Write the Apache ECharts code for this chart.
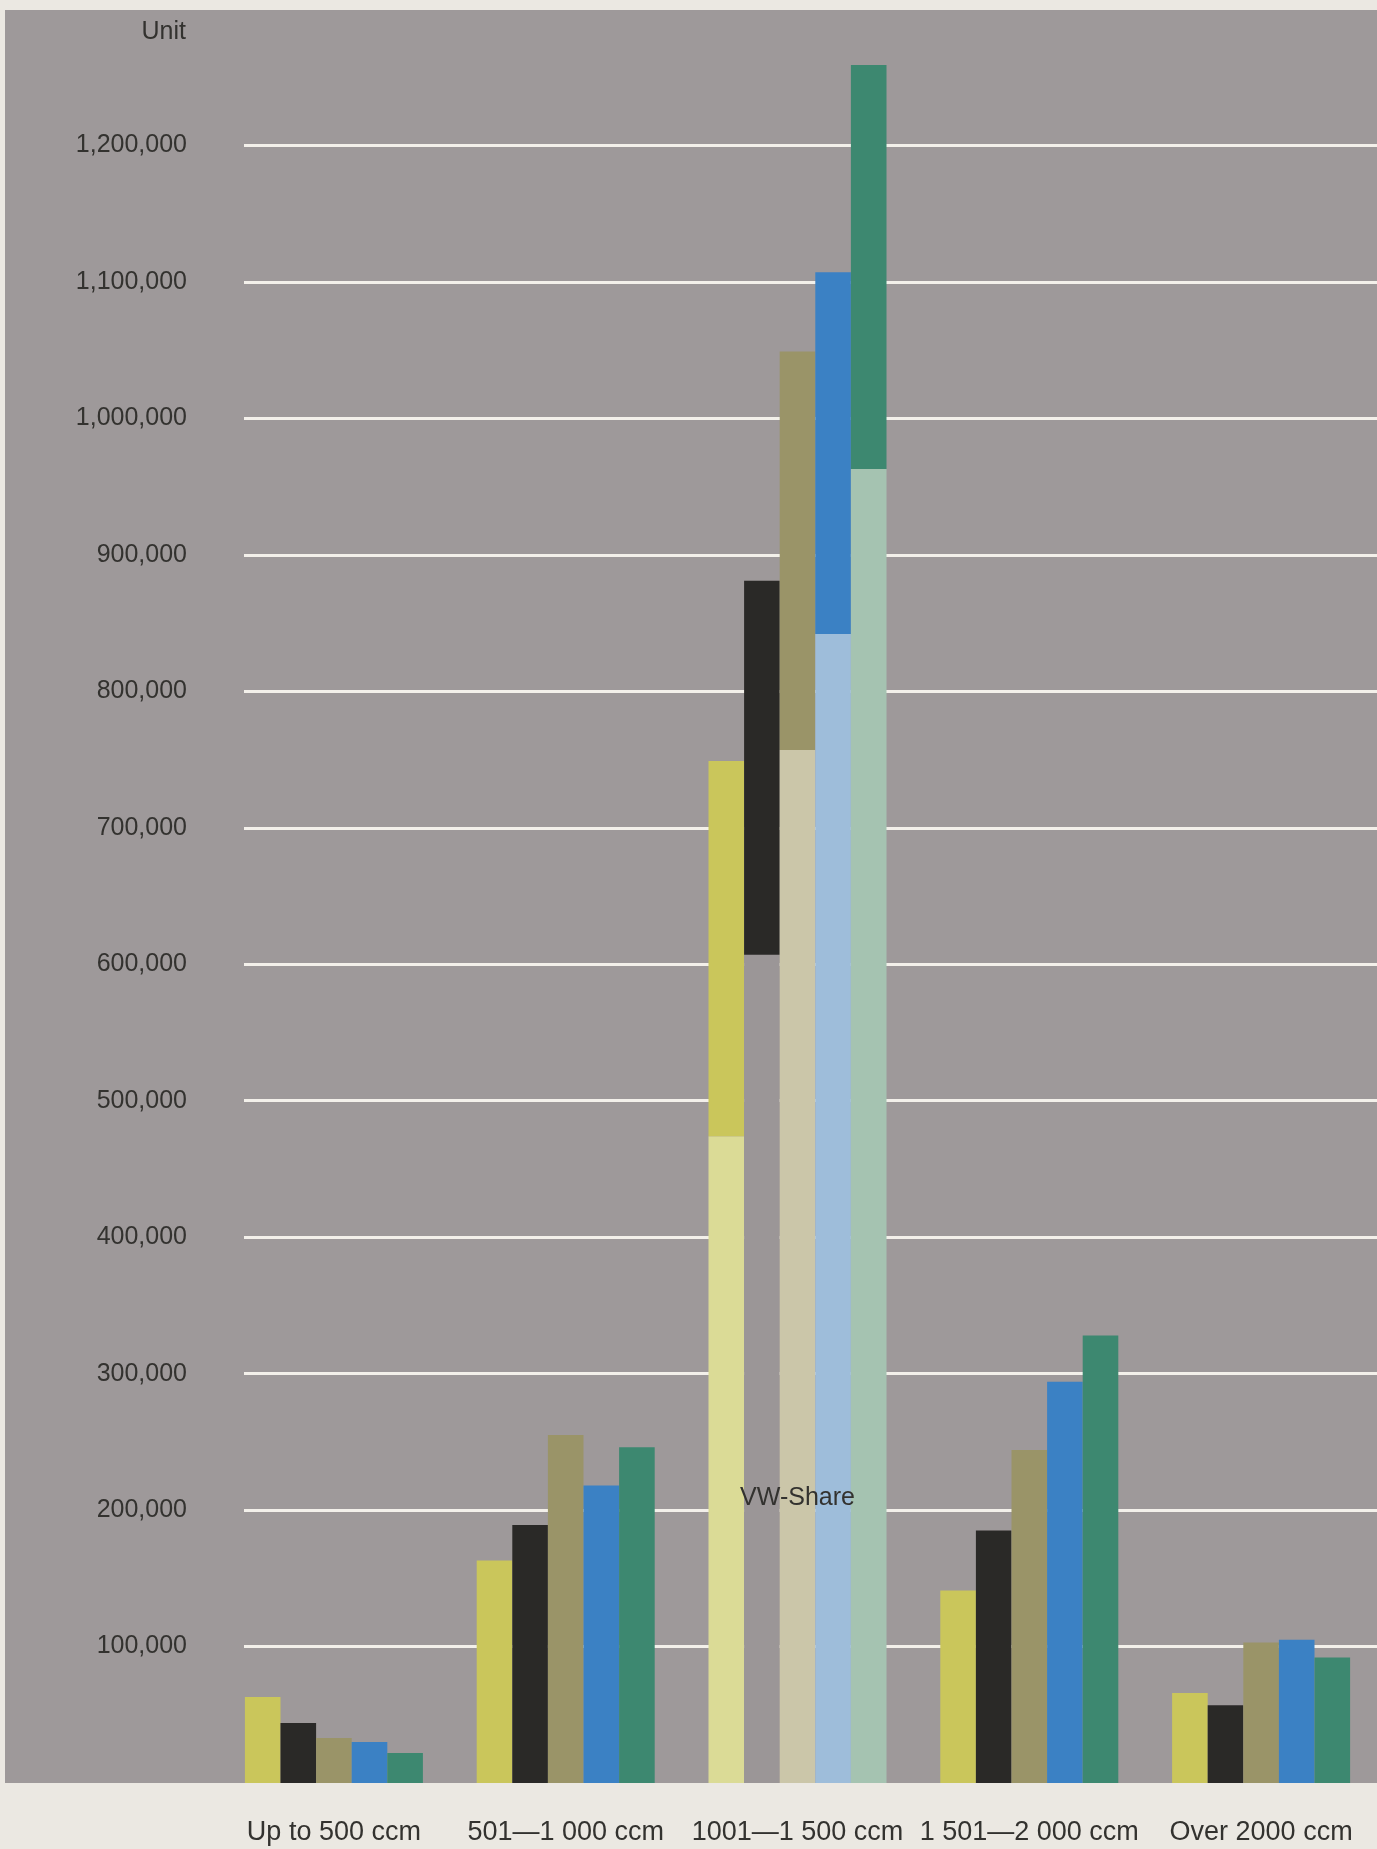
<!DOCTYPE html>
<html>
<head>
<meta charset="utf-8">
<script src="https://cdn.jsdelivr.net/npm/echarts@6/dist/echarts.min.js"></script>
<style>
  html, body { margin: 0; padding: 0; background: #ebe8e2; }
  #chart { width: 1377px; height: 1849px; }
</style>
</head>
<body>
<div id="chart"></div>
<script>
// Engine size classes
const categories = ['Up to 500 ccm', '501—1 000 ccm', '1001—1 500 ccm', '1 501—2 000 ccm', 'Over 2000 ccm'];

// Units per size class, one list per period (left to right within each class)
const unitsPeriod1 = [63000, 163000, 749000, 141000, 66000];
const unitsPeriod2 = [44000, 189000, 881000, 185000, 57000];
const unitsPeriod3 = [33000, 255000, 1049000, 244000, 103000];
const unitsPeriod4 = [30000, 218000, 1107000, 294000, 105000];
const unitsPeriod5 = [22000, 246000, 1259000, 328000, 92000];

// VW share inside the 1001—1 500 ccm class, per period
const vwShareCategory = '1001—1 500 ccm';
const vwShare = [474000, 607000, 757000, 842000, 963000];

// Labelled ticks on the unit axis
const tickValues = [100000, 200000, 300000, 400000, 500000, 600000,
                    700000, 800000, 900000, 1000000, 1100000, 1200000];

const periods = ['Period 1', 'Period 2', 'Period 3', 'Period 4', 'Period 5'];
const unitsByPeriod = [unitsPeriod1, unitsPeriod2, unitsPeriod3, unitsPeriod4, unitsPeriod5];

const darkColors  = ['#cac65b', '#2a2927', '#9a9468', '#3b81c4', '#3d8870'];
const lightColors = ['#dbdb96', '#9b9697', '#cbc6a9', '#9ebdda', '#a5c3b1'];

const FONT = '"Liberation Sans", Arial, Helvetica, sans-serif';
const TEXT = '#33322f';

const vwIdx = categories.indexOf(vwShareCategory);
const series = [];
unitsByPeriod.forEach((units, k) => {
  // lower segment: VW share (only in its size class)
  series.push({
    name: periods[k] + ' VW',
    type: 'bar',
    xAxisIndex: 0, yAxisIndex: 0,
    stack: 'p' + k,
    barWidth: 35.6,
    barGap: '0%',
    itemStyle: { color: lightColors[k] },
    data: categories.map((c, i) => (i === vwIdx ? vwShare[k] : 0)),
    markPoint: k === 2 ? {
      symbol: 'circle',
      symbolSize: 1,
      itemStyle: { color: 'rgba(0,0,0,0)' },
      label: {
        show: true, position: 'inside', formatter: 'VW-Share',
        color: TEXT, fontSize: 25, fontFamily: FONT
      },
      data: [{ coord: [vwShareCategory, 209000] }]
    } : undefined
  });
  // upper segment / full bar
  series.push({
    name: periods[k],
    type: 'bar',
    xAxisIndex: 0, yAxisIndex: 0,
    stack: 'p' + k,
    barWidth: 35.6,
    barGap: '0%',
    itemStyle: { color: darkColors[k] },
    data: units.map((v, i) => (i === vwIdx ? v - vwShare[k] : v))
  });
});

const chart = echarts.init(document.getElementById('chart'), null, { renderer: 'canvas' });
chart.setOption({
  animation: false,
  backgroundColor: '#ebe8e2',
  graphic: {
    elements: [{
      type: 'rect', z: -10, silent: true,
      shape: { x: 5, y: 10, width: 1372, height: 1773 },
      style: { fill: '#9e999a' }
    }, {
      type: 'text', z: 10, silent: true,
      x: 186, y: 32,
      style: { text: 'Unit', fill: TEXT, font: '25px ' + FONT, textAlign: 'right', textVerticalAlign: 'middle' }
    }]
  },
  grid: [
    { left: 218, right: 0, top: 9, bottom: 66 },
    { left: 244, right: 0, top: 9, bottom: 66 }
  ],
  xAxis: [
    {
      type: 'category', gridIndex: 0, data: categories,
      axisLine: { show: false }, axisTick: { show: false },
      axisLabel: { interval: 0, margin: 36, color: TEXT, fontSize: 27, fontFamily: FONT }
    },
    { type: 'value', gridIndex: 1, show: false }
  ],
  yAxis: [
    {
      type: 'value', gridIndex: 0, min: 0, max: 1300000, interval: 100000,
      axisLine: { show: false }, axisTick: { show: false },
      splitLine: { show: false },
      axisLabel: {
        margin: 31, color: TEXT, fontSize: 25, fontFamily: FONT,
        formatter: v => (tickValues.includes(v) ? v.toLocaleString('en-US') : '')
      }
    },
    {
      type: 'value', gridIndex: 1, min: 0, max: 1300000, interval: 100000,
      axisLine: { show: false }, axisTick: { show: false }, axisLabel: { show: false },
      splitLine: {
        show: true, showMinLine: false, showMaxLine: false,
        lineStyle: { color: '#f3f0ea', width: 3 }
      }
    }
  ],
  series: series
});
</script>
</body>
</html>
